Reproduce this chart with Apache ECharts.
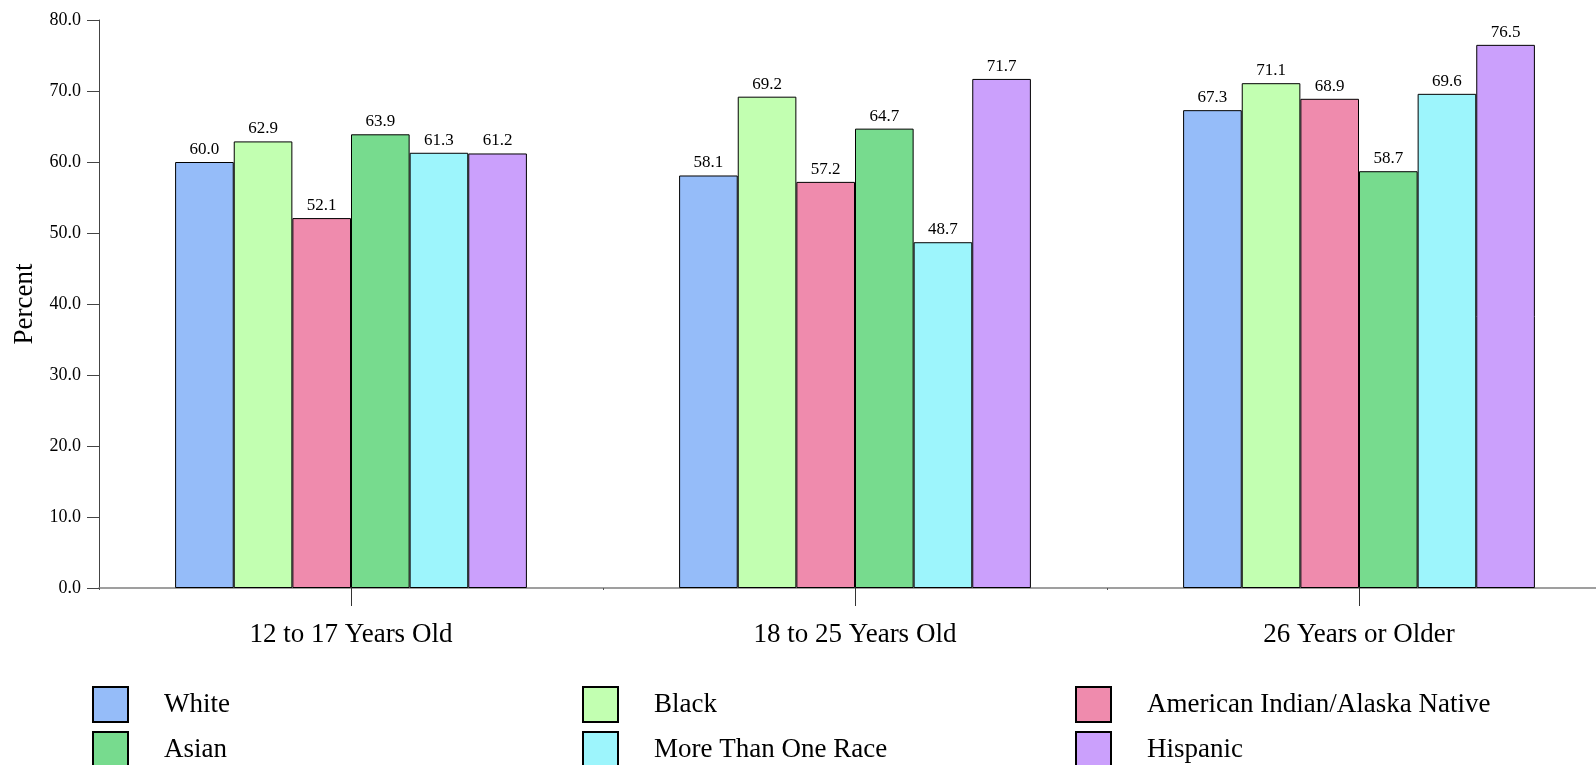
<!DOCTYPE html>
<html><head><meta charset="utf-8">
<script src="https://cdn.jsdelivr.net/npm/echarts@6/dist/echarts.min.js"></script>
<style>html,body{margin:0;padding:0;background:#fff}#c{width:1596px;height:765px}</style>
</head><body><div id="c"></div>
<script>
const categories = ['12 to 17 Years Old', '18 to 25 Years Old', '26 Years or Older'];
const seriesNames = ['White', 'Black', 'American Indian/Alaska Native', 'Asian', 'More Than One Race', 'Hispanic'];
const white = [60.0, 58.1, 67.3];
const black = [62.9, 69.2, 71.1];
const aian = [52.1, 57.2, 68.9];
const asian = [63.9, 64.7, 58.7];
const multi = [61.3, 48.7, 69.6];
const hispanic = [61.2, 71.7, 76.5];
const yTicks = [0, 10, 20, 30, 40, 50, 60, 70, 80];
const colors = ['#95BCF9', '#C2FFB1', '#EF8BAD', '#77DB8E', '#9DF5FC', '#CBA0FC'];

const values = [white, black, aian, asian, multi, hispanic];
const font = 'Liberation Serif';
const chart = echarts.init(document.getElementById('c'));
const legendLeft = [87, 577, 1070, 87, 577, 1070];
const legendTop = [681, 681, 681, 726, 726, 726];
const legendOrder = [0, 1, 2, 3, 4, 5];
chart.setOption({
  animation: false,
  color: colors,
  grid: { left: 99, top: 20, width: 1512, height: 568, containLabel: false, outerBoundsMode: 'none' },
  legend: legendOrder.map((k, i) => ({
    left: legendLeft[i], top: legendTop[i],
    itemWidth: 35, itemHeight: 35,
    data: [{ name: seriesNames[k], icon: 'rect' }],
    textStyle: { fontFamily: font, fontSize: 27, color: '#000', padding: [0, 0, 0, 31] }
  })),
  xAxis: [{
    type: 'category', data: categories,
    axisLine: { lineStyle: { color: '#808080', width: 1.5 } },
    axisTick: { show: true, alignWithLabel: true, length: 18, lineStyle: { color: '#333' } },
    axisLabel: { fontFamily: font, fontSize: 27, color: '#000', margin: 33 }
  }, {
    type: 'category', data: categories, position: 'bottom',
    axisLine: { show: false },
    axisTick: { show: true, length: 2, lineStyle: { color: '#555' } },
    axisLabel: { show: false }
  }],
  yAxis: {
    type: 'value', min: yTicks[0], max: yTicks[yTicks.length - 1], interval: yTicks[1] - yTicks[0],
    name: 'Percent', nameLocation: 'middle', nameGap: 60, nameRotate: 90,
    nameTextStyle: { fontFamily: font, fontSize: 27, color: '#000' },
    axisLine: { show: true, lineStyle: { color: '#444' } },
    axisTick: { show: true, length: 12, lineStyle: { color: '#444' } },
    axisLabel: { fontFamily: font, fontSize: 18, color: '#000', margin: 18, formatter: v => v.toFixed(1) },
    splitLine: { show: false }
  },
  series: seriesNames.map((n, i) => ({
    name: n, type: 'bar', data: values[i], xAxisIndex: 0,
    barGap: '0%', barCategoryGap: '30.2%',
    itemStyle: { color: colors[i], borderColor: '#000', borderWidth: 1 },
    label: { show: true, position: 'top', distance: 4, fontFamily: font, fontSize: 17, color: '#000',
      formatter: p => p.value.toFixed(1) }
  }))
});
</script></body></html>
